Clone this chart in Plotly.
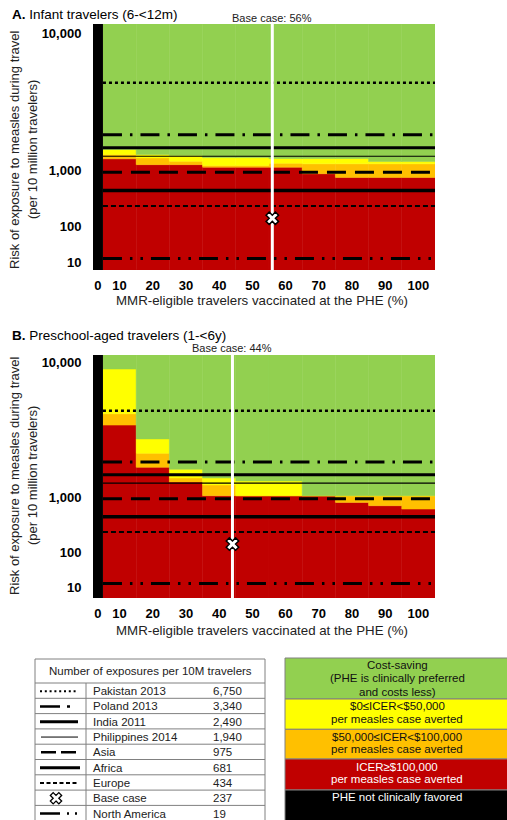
import numpy as np
import plotly.graph_objects as go

# ---------------- data ----------------
pct = [10, 20, 30, 40, 50, 60, 70, 80, 90, 100]
x_tick_text = ["0", "10", "20", "30", "40", "50", "60", "70", "80", "90", "100"]

# Panel A: infant travelers - risk level (per 10M travelers) where each colour band ends (top)
a_red_top = [1770, 1390, 1390, 1220, 1220, 1220, 950, 890, 890, 890]
a_orange_top = [2050, 1830, 1610, 1330, 1330, 1480, 1440, 1440, 1440, 1440]
a_yellow_top = [2380, 2050, 1990, 1850, 1850, 1790, 1790, 1790, 1590, 1590]

# Panel B: preschool-aged travelers
b_red_top = [5800, 2990, 2010, 1100, 1100, 1100, 1100, 916, 862, 807]
b_orange_top = [6550, 3920, 2280, 1815, 1100, 1100, 1100, 1100, 1100, 1100]
b_yellow_top = [9530, 4880, 2860, 2280, 2080, 2080, 1100, 1100, 1100, 1100]

base_case_a = 56
base_case_b = 44

ref_names = ["Pakistan 2013", "Poland 2013", "India 2011", "Philippines 2014", "Asia",
             "Africa", "Europe", "Base case", "North America"]
ref_values = [6750, 3340, 2490, 1940, 975, 681, 434, 237, 19]
ref_labels = ["6,750", "3,340", "2,490", "1,940", "975", "681", "434", "237", "19"]

y_tick_vals = [10, 100, 1000, 10000]
y_tick_text = ["10", "100", "1,000", "10,000"]

icer_lines = [
    ["Cost-saving", "(PHE is clinically preferred", "and costs less)"],
    ["$0≤ICER&lt;$50,000", "per measles case averted"],
    ["$50,000≤ICER&lt;$100,000", "per measles case averted"],
    ["ICER≥$100,000", "per measles case averted"],
    ["PHE not clinically favored"],
]

# ---------------- styles ----------------
GREEN, YELLOW, ORANGE, RED, BLACK = "#92D050", "#FFFF00", "#FFC000", "#C00000", "#000000"
FONT = "Liberation Sans, Arial, sans-serif"
W, H = 507, 820

# broken (piecewise) y scale used by the original figure
Y_ANCHOR_VALS = [10, 100, 1000, 10000]
Y_ANCHOR_POS = [0, 35, 91, 228]


def ypos(v):
    return float(np.interp(v, Y_ANCHOR_VALS, Y_ANCHOR_POS))


LINE_STYLES = {
    "Pakistan 2013": dict(width=2.5, dash="3px,3px"),
    "Poland 2013": dict(width=3, dash="19px,8px,2.5px,8px"),
    "India 2011": dict(width=3, dash="solid"),
    "Philippines 2014": dict(width=1.2, dash="solid"),
    "Asia": dict(width=3, dash="19px,9px"),
    "Africa": dict(width=3.5, dash="solid"),
    "Europe": dict(width=2, dash="5px,3px"),
    "North America": dict(width=3, dash="19px,8px,2.5px,8px,2.5px,8px"),
}
LEGEND_STYLES = {
    "Pakistan 2013": dict(width=2, dash="2px,2.8px", x=(40, 78)),
    "Poland 2013": dict(width=2.5, dash="20px,7px,3px,30px", x=(40, 71)),
    "India 2011": dict(width=3, dash="solid", x=(40, 78)),
    "Philippines 2014": dict(width=1, dash="solid", x=(41, 78)),
    "Asia": dict(width=2.5, dash="15px,5px", x=(41, 77)),
    "Africa": dict(width=3, dash="solid", x=(40, 80)),
    "Europe": dict(width=2, dash="4px,2.5px", x=(40, 79)),
    "North America": dict(width=2.5, dash="20px,7px,2px,6px,2px,20px", x=(40, 78)),
}

ZERO_POS, ZERO_W = 3.5, 3
X_RANGE = [2, 105]
LINE_X = [5, 105]


def px_x(p):
    return p / W


def px_y(p):
    return 1 - p / H


panels = [
    dict(xa="x", ya="y", red=a_red_top, orange=a_orange_top, yellow=a_yellow_top,
         base=base_case_a, yrange=[-8, 237], top=24, bottom=270,
         title="<b>A.</b> Infant travelers (6-&lt;12m)", title_y=14, base_y=18,
         ytitle_c=150, xtitle_y=300),
    dict(xa="x2", ya="y2", red=b_red_top, orange=b_orange_top, yellow=b_yellow_top,
         base=base_case_b, yrange=[-11.1, 235.1], top=355, bottom=598,
         title="<b>B.</b> Preschool-aged travelers (1-&lt;6y)", title_y=336, base_y=348,
         ytitle_c=476, xtitle_y=630),
]

fig = go.Figure()
annotations = []
shapes = []
layout_axes = {}

for i, P in enumerate(panels):
    xa, ya = P["xa"], P["ya"]
    ymin, ymax = P["yrange"]
    r = [ypos(v) for v in P["red"]]
    o = [ypos(v) for v in P["orange"]]
    yy = [ypos(v) for v in P["yellow"]]
    bands = [
        (RED, [ymin] * len(pct), [ri - ymin for ri in r]),
        (ORANGE, r, [oi - ri for oi, ri in zip(o, r)]),
        (YELLOW, o, [yi - oi for yi, oi in zip(yy, o)]),
        (GREEN, yy, [ymax - yi for yi in yy]),
    ]
    for col, base, hgt in bands:
        fig.add_trace(go.Bar(x=pct, y=hgt, base=base, width=[10] * len(pct),
                             marker=dict(color=col, line=dict(color=col, width=0.5)),
                             xaxis=xa, yaxis=ya, showlegend=False, hoverinfo="skip"))
    # 0% column: PHE not clinically favored
    fig.add_trace(go.Bar(x=[ZERO_POS], y=[ymax - ymin], base=[ymin], width=[ZERO_W],
                         marker=dict(color=BLACK, line=dict(width=0)),
                         xaxis=xa, yaxis=ya, showlegend=False, hoverinfo="skip"))
    # reference exposure lines
    for name, val in zip(ref_names, ref_values):
        if name == "Base case":
            continue
        st = LINE_STYLES[name]
        fig.add_trace(go.Scatter(x=LINE_X, y=[ypos(val)] * 2, mode="lines",
                                 line=dict(color="black", width=st["width"], dash=st["dash"]),
                                 xaxis=xa, yaxis=ya, showlegend=False, hoverinfo="skip"))
    # base case vertical line + marker
    fig.add_trace(go.Scatter(x=[P["base"]] * 2, y=[ymin, ymax], mode="lines",
                             line=dict(color="white", width=3),
                             xaxis=xa, yaxis=ya, showlegend=False, hoverinfo="skip"))
    fig.add_trace(go.Scatter(x=[P["base"]], y=[ypos(ref_values[ref_names.index("Base case")])],
                             mode="markers",
                             marker=dict(symbol="x", size=11, color="white",
                                         line=dict(color="black", width=1.5)),
                             xaxis=xa, yaxis=ya, showlegend=False, hoverinfo="skip"))

    xkey = "xaxis" if xa == "x" else "xaxis2"
    ykey = "yaxis" if ya == "y" else "yaxis2"
    layout_axes[xkey] = dict(
        domain=[px_x(93), px_x(435)], range=X_RANGE, anchor=ya,
        tickvals=[ZERO_POS] + pct, ticktext=["<b>%s</b>" % t for t in x_tick_text],
        tickfont=dict(size=13, color="black", family=FONT), ticks="outside", ticklen=3,
        tickcolor="rgba(0,0,0,0)", showgrid=False, zeroline=False, showline=False,
        fixedrange=True)
    layout_axes[ykey] = dict(
        domain=[px_y(P["bottom"]), px_y(P["top"])], range=[ymin, ymax], anchor=xa,
        tickvals=[ypos(v) for v in y_tick_vals], ticktext=["<b>%s</b>" % t for t in y_tick_text],
        tickfont=dict(size=13, color="black", family=FONT), ticks="outside", ticklen=8,
        tickcolor="rgba(0,0,0,0)", showgrid=False, zeroline=False, showline=False,
        fixedrange=True)

    annotations.append(dict(text=P["title"], x=px_x(10), y=px_y(P["title_y"]), xref="paper",
                            yref="paper", xanchor="left", yanchor="middle", showarrow=False,
                            font=dict(size=13.5, color="black", family=FONT)))
    annotations.append(dict(text="Base case: %d%%" % P["base"], x=P["base"], xref=xa,
                            y=px_y(P["base_y"]), yref="paper", xanchor="center",
                            yanchor="middle", showarrow=False,
                            font=dict(size=11, color="#222", family=FONT)))
    for txt, xp in [("Risk of exposure to measles during travel", 15),
                    ("(per 10 million travelers)", 33)]:
        annotations.append(dict(text=txt, x=px_x(xp), y=px_y(P["ytitle_c"]), xref="paper",
                                yref="paper", textangle=-90, xanchor="center",
                                yanchor="middle", showarrow=False,
                                font=dict(size=13, color="#222", family=FONT)))
    annotations.append(dict(text="MMR-eligible travelers vaccinated at the PHE (%)",
                            x=px_x(262), y=px_y(P["xtitle_y"]), xref="paper", yref="paper",
                            xanchor="center", yanchor="middle", showarrow=False,
                            font=dict(size=13.3, color="#222", family=FONT)))

# ---------------- legend tables (pixel overlay axes) ----------------
layout_axes["xaxis3"] = dict(domain=[0, 1], range=[0, W], visible=False, fixedrange=True,
                             anchor="y3")
layout_axes["yaxis3"] = dict(domain=[0, 1], range=[H, 0], visible=False, fixedrange=True,
                             anchor="x3")
GRID = "#808080"
TL, TR, TTOP, THEAD, ROWH, DIV = 35, 265, 659, 683, 15.3, 86
shapes.append(dict(type="rect", xref="x3", yref="y3", x0=TL, x1=TR, y0=TTOP, y1=H + 10,
                   line=dict(color=GRID, width=1), fillcolor="white", layer="below"))
shapes.append(dict(type="line", xref="x3", yref="y3", x0=TL, x1=TR, y0=THEAD, y1=THEAD,
                   line=dict(color=GRID, width=1)))
shapes.append(dict(type="line", xref="x3", yref="y3", x0=DIV, x1=DIV, y0=THEAD, y1=H + 10,
                   line=dict(color=GRID, width=1)))
annotations.append(dict(text="Number of exposures per 10M travelers", x=150, y=671,
                        xref="x3", yref="y3", showarrow=False, xanchor="center",
                        yanchor="middle", font=dict(size=11.5, color="#222", family=FONT)))
for k, (name, lab) in enumerate(zip(ref_names, ref_labels)):
    yc = THEAD + ROWH * (k + 0.5) + 0.5
    if k > 0:
        yl = THEAD + ROWH * k
        shapes.append(dict(type="line", xref="x3", yref="y3", x0=TL, x1=TR, y0=yl, y1=yl,
                           line=dict(color=GRID, width=1)))
    annotations.append(dict(text=name, x=92, y=yc, xref="x3", yref="y3", showarrow=False,
                            xanchor="left", yanchor="middle", borderpad=0,
                            font=dict(size=11.5, color="#222", family=FONT)))
    annotations.append(dict(text=lab, x=212, y=yc, xref="x3", yref="y3", showarrow=False,
                            xanchor="left", yanchor="middle", borderpad=0,
                            font=dict(size=11.5, color="#222", family=FONT)))
    if name == "Base case":
        fig.add_trace(go.Scatter(x=[56], y=[yc], mode="markers", xaxis="x3", yaxis="y3",
                                 marker=dict(symbol="x", size=10, color="white",
                                             line=dict(color="black", width=1.3)),
                                 showlegend=False, hoverinfo="skip"))
    else:
        st = LEGEND_STYLES[name]
        fig.add_trace(go.Scatter(x=list(st["x"]), y=[yc, yc], mode="lines", xaxis="x3",
                                 yaxis="y3",
                                 line=dict(color="black", width=st["width"], dash=st["dash"]),
                                 showlegend=False, hoverinfo="skip"))

# ICER colour key
RL, RR = 285, 508
box_edges = [658, 699, 729.3, 759, 790, H + 10]
box_cols = [GREEN, YELLOW, ORANGE, RED, BLACK]
txt_cols = ["#111", "#111", "#111", "white", "white"]
line_ys = [[665, 678.3, 691.7], [705.7, 719], [736.7, 749.3], [766.7, 779.3], [796.7]]
for j in range(5):
    shapes.append(dict(type="rect", xref="x3", yref="y3", x0=RL, x1=RR, y0=box_edges[j],
                       y1=box_edges[j + 1], fillcolor=box_cols[j],
                       line=dict(color=GRID, width=1), layer="below"))
    for t, yv in zip(icer_lines[j], line_ys[j]):
        annotations.append(dict(text=t, x=397, y=yv, xref="x3", yref="y3", showarrow=False,
                                xanchor="center", yanchor="middle",
                                font=dict(size=11.5, color=txt_cols[j], family=FONT)))

fig.update_layout(
    width=W, height=H, autosize=False, margin=dict(l=0, r=0, t=0, b=0),
    paper_bgcolor="white", plot_bgcolor="rgba(0,0,0,0)", barmode="overlay",
    showlegend=False, annotations=annotations, shapes=shapes,
    font=dict(family=FONT, color="black"), **layout_axes)

fig.write_html("out.html", config={"displayModeBar": False, "staticPlot": True},
               post_script="document.body.style.margin='0';document.body.style.padding='0';"
                           "document.body.style.overflow='hidden';")
